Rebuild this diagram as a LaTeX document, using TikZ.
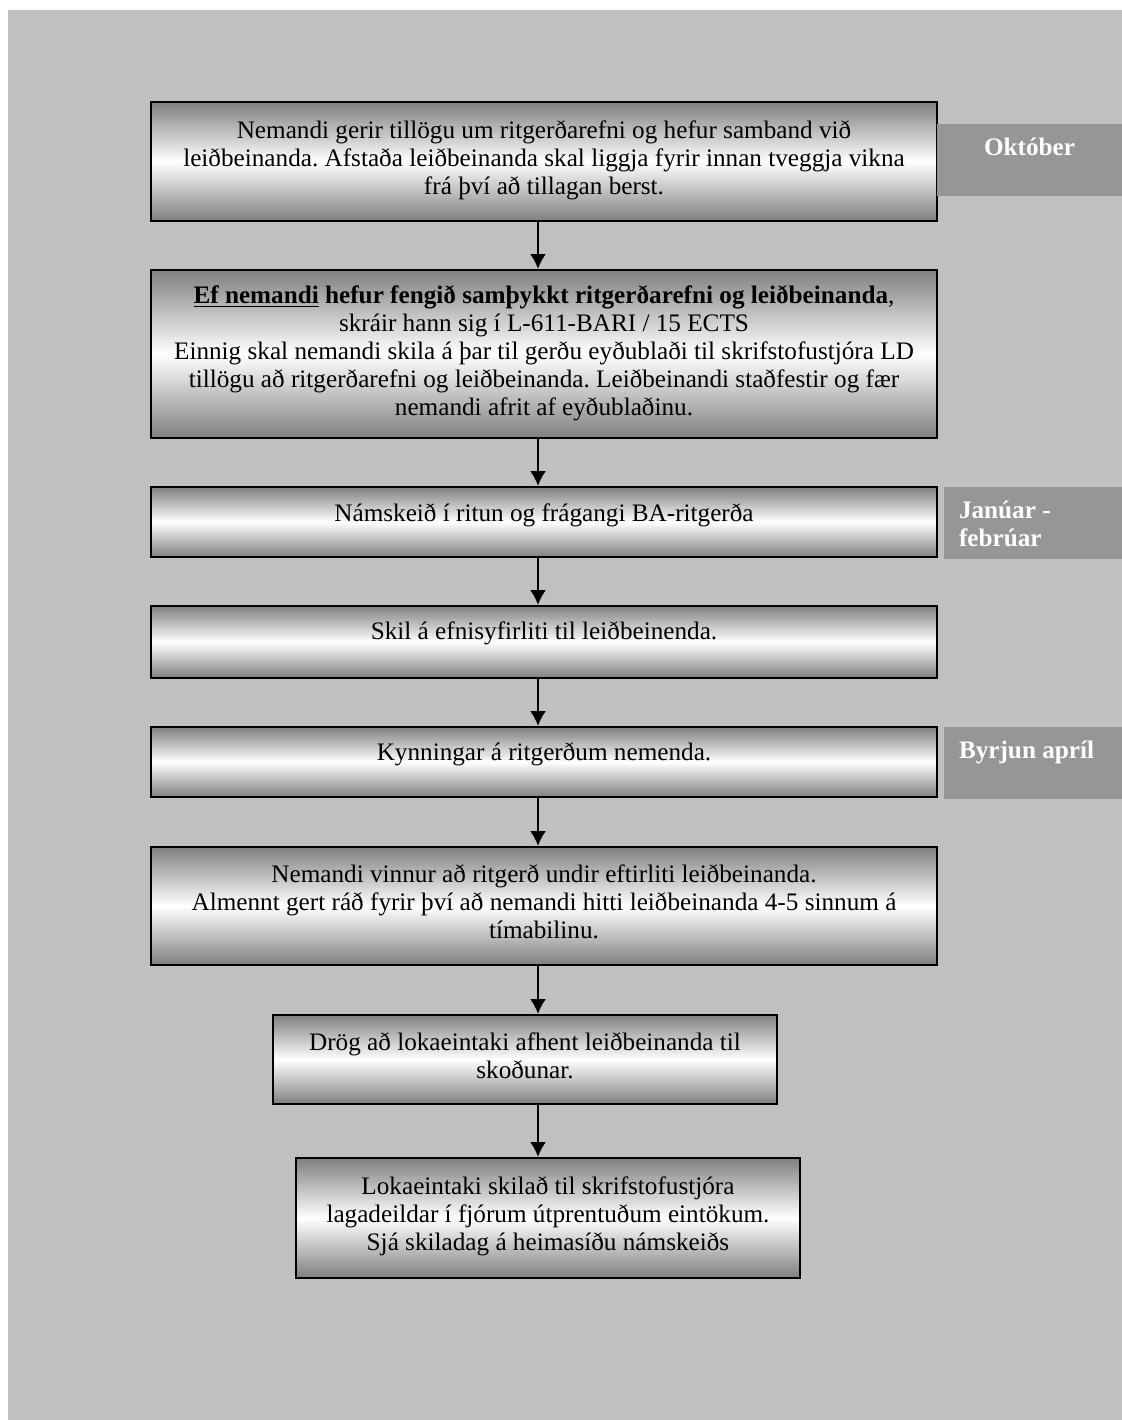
\documentclass[tikz,border=0pt]{standalone}
\usepackage{fontspec}
\setmainfont{Liberation Serif}
\usetikzlibrary{arrows.meta}

\definecolor{pagegray}{HTML}{C0C0C0}
\definecolor{tabgray}{HTML}{969696}

% text of a stage box: width, height, top gap, text
\newcommand{\stagetext}[4][7.5pt]{\parbox[c][#3][t]{#2}{\centering\vspace*{#1}\strut #4}}
% text of a month tab: width, alignment, text
\newcommand{\tabtext}[3]{\parbox[c][36pt][t]{#1}{#2\vspace*{6pt}\strut\bfseries #3}}

\frenchspacing
\begin{document}
\begin{tikzpicture}
  [x=0.5pt,y=-0.5pt,
   every node/.style={inner sep=0pt,font=\fontsize{12.6}{14}\selectfont},
   stage/.style={draw=black,line width=1pt,top color=black!50,bottom color=black!50,middle color=white},
   tab/.style={fill=tabgray,text=white},
   flow/.style={-{Latex[length=7.5pt,width=8pt]},line width=1pt}]
  \useasboundingbox (0,0) rectangle (1122,1420);
  \fill[pagegray] (8,10) rectangle (1122,1420);

  \node[stage] (b1) at (544,161.5) {\stagetext[8.3pt]{393pt}{59.5pt}{Nemandi gerir tillögu um ritgerðarefni og hefur samband við\\
    leiðbeinanda. Afstaða leiðbeinanda skal liggja fyrir innan tveggja vikna\\
    frá því að tillagan berst.}};
  \node[stage] (b2) at (544,354) {\stagetext[7pt]{393pt}{84pt}{\textbf{\underline{Ef nemandi} hefur fengið samþykkt ritgerðarefni og leiðbeinanda},\\
    skráir hann sig í L-611-BARI / 15 ECTS\\
    Einnig skal nemandi skila á þar til gerðu eyðublaði til skrifstofustjóra LD\\
    tillögu að ritgerðarefni og leiðbeinanda. Leiðbeinandi staðfestir og fær\\
    nemandi afrit af eyðublaðinu.}};
  \node[stage] (b3) at (544,522) {\stagetext{393pt}{35pt}{Námskeið í ritun og frágangi BA-ritgerða}};
  \node[stage] (b4) at (544,642) {\stagetext[7pt]{393pt}{36pt}{Skil á efnisyfirliti til leiðbeinenda.}};
  \node[stage] (b5) at (544,762) {\stagetext[7pt]{393pt}{35pt}{Kynningar á ritgerðum nemenda.}};
  \node[stage] (b6) at (544,906) {\stagetext[8pt]{393pt}{59pt}{Nemandi vinnur að ritgerð undir eftirliti leiðbeinanda.\\
    Almennt gert ráð fyrir því að nemandi hitti leiðbeinanda 4-5 sinnum á\\
    tímabilinu.}};
  \node[stage] (b7) at (525,1059.5) {\stagetext[8pt]{252pt}{44.5pt}{Drög að lokaeintaki afhent leiðbeinanda til\\
    skoðunar.}};
  \node[stage] (b8) at (548,1218) {\stagetext[8.5pt]{252pt}{60pt}{Lokaeintaki skilað til skrifstofustjóra\\
    lagadeildar í fjórum útprentuðum eintökum.\\
    Sjá skiladag á heimasíðu námskeiðs}};

  \node[tab] (m1) at (1029.5,160) {\tabtext{92.5pt}{\centering}{Október}};
  \node[tab] (m2) at (1033,523) {\tabtext{89pt}{\raggedright\leftskip=7.5pt}{Janúar -\\febrúar}};
  \node[tab] (m3) at (1033,763) {\tabtext{89pt}{\raggedright\leftskip=7.5pt}{Byrjun apríl}};

  \coordinate (ax) at (538,0);
  \foreach \from/\to in {b1/b2,b2/b3,b3/b4,b4/b5,b5/b6,b6/b7,b7/b8}
    \draw[flow] (\from.south -| ax) -- (\to.north -| ax);
\end{tikzpicture}
\end{document}
